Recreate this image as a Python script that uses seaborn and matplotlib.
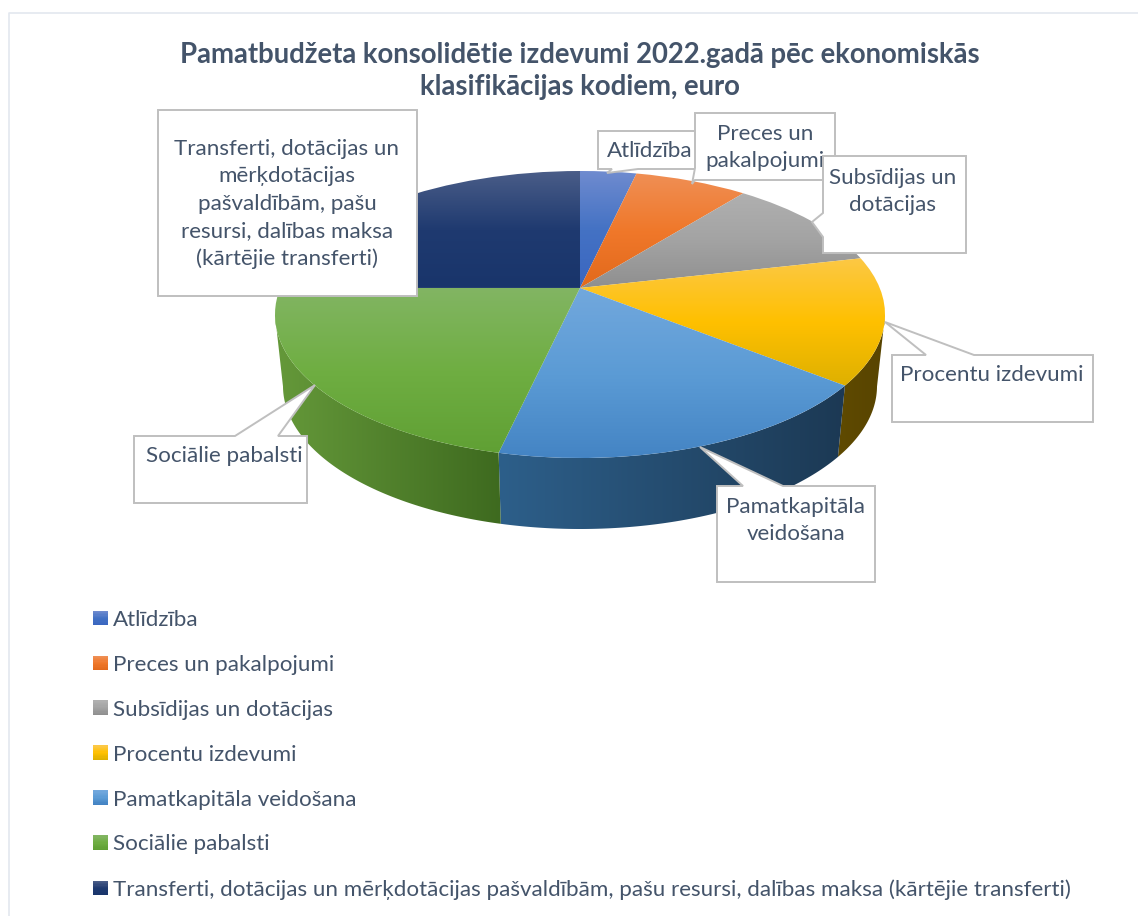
import numpy as np
import matplotlib
matplotlib.use("Agg")
import matplotlib.pyplot as plt
import matplotlib.transforms as mtransforms
from matplotlib.legend_handler import HandlerBase
from matplotlib.patches import Patch, Polygon, Rectangle
import seaborn as sns

title = "Pamatbudžeta konsolidētie izdevumi 2022.gadā pēc ekonomiskās\nklasifikācijas kodiem, euro"
categories = [
    "Atlīdzība",
    "Preces un pakalpojumi",
    "Subsīdijas un dotācijas",
    "Procentu izdevumi",
    "Pamatkapitāla veidošana",
    "Sociālie pabalsti",
    "Transferti, dotācijas un mērķdotācijas pašvaldībām, pašu resursi, dalības maksa (kārtējie transferti)",
]
values = [1, 2, 3, 4, 5, 6, 7]

# callout wording, line breaks as in the chart
callout_text = [
    "Atlīdzība",
    "Preces un\npakalpojumi",
    "Subsīdijas un\ndotācijas",
    "Procentu izdevumi",
    "Pamatkapitāla\nveidošana",
    "Sociālie pabalsti",
    "Transferti, dotācijas un\nmērķdotācijas\npašvaldībām, pašu\nresursi, dalības maksa\n(kārtējie transferti)",
]

# colours: top of slice, middle, bottom of slice
top_colors = [
    ["#6f8bcf", "#4472c4", "#3a66c0"],
    ["#ef8f55", "#f0782a", "#e2691c"],
    ["#b0b0b0", "#a3a3a3", "#8f8f8f"],
    ["#fcc845", "#ffc000", "#deb000"],
    ["#72a8dd", "#5b9bd5", "#4383c3"],
    ["#82b563", "#6fae42", "#60a034"],
    ["#4a5d88", "#1f3a70", "#19356b"],
]
wall_colors = [
    ["#223a66", "#223a66"],
    ["#7a3e18", "#7a3e18"],
    ["#555555", "#555555"],
    ["#5f4a00", "#584400"],
    ["#2d5f8a", "#1c3954"],
    ["#65993a", "#3e6a1f"],
    ["#14264a", "#14264a"],
]
text_color = "#44546a"
edge_color = "#bfbfbf"


class DiscProjection(mtransforms.Transform):
    # unit disc seen in perspective: circle stays an ellipse, centre moves up
    input_dims = 2
    output_dims = 2

    def __init__(self, cx, cy, rx, ry, shift):
        super().__init__()
        self.cx, self.cy, self.rx, self.ry, self.shift = cx, cy, rx, ry, shift

    def transform_non_affine(self, pts):
        pts = np.asarray(pts, dtype=float)
        u, v = pts[:, 0], pts[:, 1]
        a = self.shift
        d = 1 + a * v
        return np.column_stack([
            self.cx + self.rx * u * np.sqrt(1 - a * a) / d,
            self.cy - self.ry * (v + a) / d,
        ])


class GradientHandler(HandlerBase):
    def __init__(self, cmap):
        super().__init__()
        self.cmap = cmap

    def create_artists(self, legend, orig_handle, xdescent, ydescent, width, height, fontsize, trans):
        n = 12
        return [
            Rectangle((-xdescent, -ydescent + height * (n - 1 - i) / n), width, height / n + 0.1,
                      facecolor=self.cmap(i / (n - 1)), edgecolor="none", transform=trans)
            for i in range(n)
        ]


sns.set_theme(style="white")
plt.rcParams["font.family"] = ["Lato", "DejaVu Sans"]

fig = plt.figure(figsize=(11.38, 9.16), dpi=100)
ax = fig.add_axes([0, 0, 1, 1])

top_proj = DiscProjection(580, 314.5, 305, 143.5, 0.185)
bottom_proj = DiscProjection(580, 386, 297, 143, 0.185)

wedges, _ = ax.pie(values, startangle=90, counterclock=False, radius=1, wedgeprops={"edgecolor": "none"})
ax.set_aspect("auto")

ramp = np.linspace(0, 1, 256)

# side wall first, only the rim facing the viewer
for wedge, stops in zip(wedges, wall_colors):
    t = np.radians(np.linspace(wedge.theta1, wedge.theta2, 200))
    ring = np.column_stack([np.cos(t), np.sin(t)])
    ring = ring[ring[:, 1] <= -top_proj.shift]
    if len(ring) < 2:
        continue
    outline = np.vstack([top_proj.transform_non_affine(ring), bottom_proj.transform_non_affine(ring)[::-1]])
    wall = Polygon(outline, closed=True, facecolor="none", edgecolor="none", zorder=1)
    ax.add_patch(wall)
    img = ax.imshow(ramp[None, :], cmap=sns.blend_palette(stops, as_cmap=True), aspect="auto",
                    extent=(outline[:, 0].min(), outline[:, 0].max(), outline[:, 1].max(), outline[:, 1].min()),
                    zorder=1)
    img.set_clip_path(wall)

# top face
for wedge, stops in zip(wedges, top_colors):
    wedge.set_transform(top_proj + ax.transData)
    wedge.set_facecolor("none")
    wedge.set_zorder(2)
    corners = top_proj.transform_non_affine(wedge.get_path().vertices)
    img = ax.imshow(ramp[:, None], cmap=sns.blend_palette(stops, as_cmap=True), aspect="auto",
                    extent=(corners[:, 0].min(), corners[:, 0].max(), corners[:, 1].max(), corners[:, 1].min()),
                    zorder=2)
    img.set_clip_path(wedge)

# callout boxes: left, top, right, bottom, tail points
boxes = [
    (598, 131, 700, 169, [(612, 169), (607, 173), (638, 169)]),
    (695, 113, 835, 180, [(695, 180), (692, 184), (695, 168)]),
    (823, 156, 966, 253, [(823, 237), (812, 222), (823, 213)]),
    (892, 355, 1093, 422, [(926, 355), (885, 322), (974, 355)]),
    (717, 486, 875, 582, [(743, 486), (700, 447), (783, 486)]),
    (134, 436, 307, 503, [(235, 436), (315, 385), (278, 436)]),
    (158, 110, 417, 296, []),
]
text_pos = [(650, 151), (765, 147.5), (893, 191.5), (992, 375), (796, 520.5), (224, 456), (287, 204)]

for i, (box, label, pos) in enumerate(zip(boxes, callout_text, text_pos)):
    left, top, right, bottom, tail = box
    # walk round the box clockwise and put the tail into the edge it leaves from
    if tail and tail[0][0] == left:
        pts = [(left, top), (right, top), (right, bottom), (left, bottom)] + tail
    else:
        pts = [(left, top)] + tail[::1] + [(right, top), (right, bottom), (left, bottom)]
    if i == 0:
        pts = [(left, top), (right, top), (right, bottom)] + tail[::-1] + [(left, bottom)]
    z = 3 + i * 0.1
    ax.add_patch(Polygon(pts, closed=True, facecolor="white", edgecolor=edge_color, linewidth=1.4,
                         joinstyle="miter", zorder=z))
    ax.text(pos[0], pos[1], label, ha="center", va="center", color=text_color, fontsize=16.1,
            linespacing=1.47, zorder=z + 0.05)

ax.text(580, 71, title, ha="center", va="center", color=text_color, fontsize=19.8, fontweight="bold",
        linespacing=1.33, zorder=5)

# chart frame, cut off on the right and at the bottom
ax.plot([9, 9, 1138], [916, 12.5, 12.5], color="#e3e8ef", linewidth=1.2, zorder=0)

handles = [Patch(label=c) for c in categories]
handler_map = {h: GradientHandler(sns.blend_palette(s, as_cmap=True)) for h, s in zip(handles, top_colors)}
ax.legend(handles=handles, handler_map=handler_map, loc="upper left", bbox_to_anchor=(93, 610),
          bbox_transform=ax.transData, frameon=False, fontsize=16.15, labelcolor=text_color,
          borderpad=0, borderaxespad=0, handlelength=0.65, handleheight=0.63, handletextpad=0.22,
          labelspacing=1.11)

ax.set_xlim(0, 1138)
ax.set_ylim(916, 0)
ax.set_axis_off()

plt.savefig("out.png", dpi=100)
plt.close()
